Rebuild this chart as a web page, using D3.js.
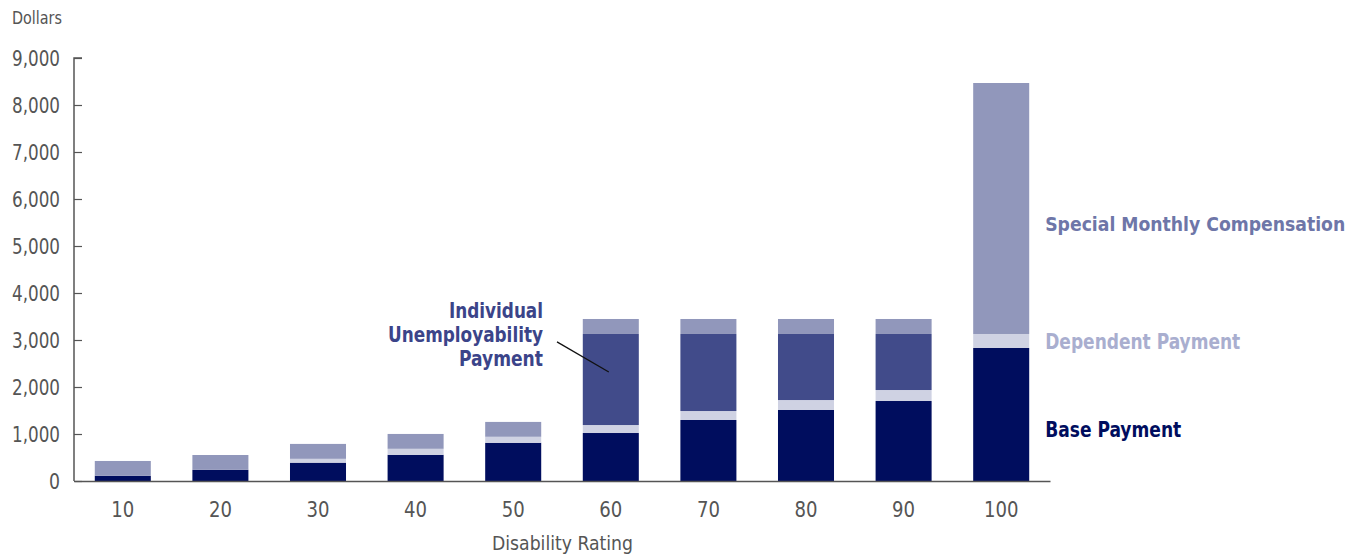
<!DOCTYPE html>
<html>
<head>
<meta charset="utf-8">
<script src="https://cdn.jsdelivr.net/npm/d3@7"></script>
<style>
  body { margin: 0; background: #fff; }
  text { font-family: "DejaVu Sans Condensed", "Liberation Sans Narrow", sans-serif; }
</style>
</head>
<body>
<div id="chart"></div>
<script>
var ratings = ["10", "20", "30", "40", "50", "60", "70", "80", "90", "100"];
var basePayment = [110, 237, 390, 557, 813, 1021, 1298, 1511, 1702, 2830];
var dependentPayment = [0, 0, 82, 128, 128, 170, 191, 212, 234, 298];
var unemployability = [0, 0, 0, 0, 0, 1937, 1639, 1405, 1192, 0];
var specialMonthly = [316, 316, 317, 316, 316, 319, 319, 319, 319, 5340];
var yTicks = [0, 1000, 2000, 3000, 4000, 5000, 6000, 7000, 8000, 9000];

function init() {
    var w = 1359;
    var h = 557;
    var left = 74, right = 1050, top = 58, bottom = 481;

    var keys = ["base", "dependent", "ui", "smc"];
    var colors = {base: "#000d5e", dependent: "#cfd2e3", ui: "#414b8a", smc: "#9197bb"};

    var table = ratings.map(function(r, i) {
        return {rating: r, base: basePayment[i], dependent: dependentPayment[i],
                ui: unemployability[i], smc: specialMonthly[i]};
    });
    var series = d3.stack().keys(keys)(table);

    var x = d3.scaleBand().domain(ratings).range([left, right])
              .paddingInner(0.426).paddingOuter(0.213);
    var y = d3.scaleLinear().domain([0, 9000]).range([bottom, top]);

    var svg = d3.select("#chart").append("svg")
                .attr("width", w).attr("height", h);

    // squeeze text so the wide fallback font reads like the condensed original
    function squeeze(sel, width) {
        sel.attr("textLength", width).attr("lengthAdjust", "spacingAndGlyphs");
        return sel;
    }

    svg.append("g").selectAll("g")
       .data(series)
       .enter().append("g")
       .attr("fill", function(d) { return colors[d.key]; })
       .selectAll("rect")
       .data(function(d) { return d; })
       .enter().append("rect")
       .attr("x", function(d) { return x(d.data.rating); })
       .attr("y", function(d) { return y(d[1]); })
       .attr("width", x.bandwidth())
       .attr("height", function(d) { return y(d[0]) - y(d[1]); });

    // y axis
    var yAxis = svg.append("g")
        .attr("transform", "translate(" + left + ",0)")
        .call(d3.axisRight(y).tickValues(yTicks).tickSize(8).tickFormat(d3.format(",")));
    yAxis.select(".domain").attr("stroke", "#555").attr("stroke-width", 1.5)
         .attr("d", "M8," + top + "H0V" + bottom);
    yAxis.selectAll(".tick line").attr("stroke", "#555").attr("stroke-width", 1.2);
    yAxis.selectAll(".tick text")
         .attr("x", -14).attr("text-anchor", "end")
         .attr("fill", "#555").attr("font-size", 22)
         .each(function(d) {
             var t = d3.select(this);
             if (d >= 1000) squeeze(t, 48);
             else squeeze(t, 11);
         });

    // x axis
    var xAxis = svg.append("g")
        .attr("transform", "translate(0," + bottom + ")")
        .call(d3.axisBottom(x).tickSize(0));
    xAxis.select(".domain").attr("stroke", "#555").attr("stroke-width", 1.5);
    xAxis.selectAll(".tick text")
         .attr("dy", 0).attr("y", 36)
         .attr("fill", "#555").attr("font-size", 22)
         .each(function(d) { squeeze(d3.select(this), d.length * 11.5); });

    squeeze(svg.append("text").attr("x", 12).attr("y", 24)
       .attr("fill", "#555").attr("font-size", 17).text("Dollars"), 50);
    squeeze(svg.append("text").attr("x", 492).attr("y", 550)
       .attr("fill", "#555").attr("font-size", 20).text("Disability Rating"), 141);

    // series labels at the right
    var labelX = x("100") + x.bandwidth() + 16;
    var last = table[table.length - 1];
    squeeze(svg.append("text").attr("x", labelX).attr("y", y(5480) + 8)
       .attr("font-weight", "bold").attr("font-size", 19).attr("fill", "#6e76a8")
       .text("Special Monthly Compensation"), 300);
    squeeze(svg.append("text").attr("x", labelX)
       .attr("y", y(last.base + last.dependent / 2) + 8)
       .attr("font-weight", "bold").attr("font-size", 21).attr("fill", "#a9aecf")
       .text("Dependent Payment"), 195);
    squeeze(svg.append("text").attr("x", labelX).attr("y", y(1100) + 8)
       .attr("font-weight", "bold").attr("font-size", 21).attr("fill", "#000d5e")
       .text("Base Payment"), 136);

    // annotation for unemployability
    var uiLines = [["Individual", 94], ["Unemployability", 155], ["Payment", 84]];
    svg.selectAll("text.ui").data(uiLines).enter().append("text")
       .attr("class", "ui")
       .attr("x", function(d) { return 543 - d[1]; })
       .attr("y", function(d, i) { return 318 + i * 24; })
       .attr("font-weight", "bold")
       .attr("font-size", 21).attr("fill", "#3b4489")
       .attr("textLength", function(d) { return d[1]; })
       .attr("lengthAdjust", "spacingAndGlyphs")
       .text(function(d) { return d[0]; });

    svg.append("line")
       .attr("x1", 557).attr("y1", y(2960))
       .attr("x2", x("60") + x.bandwidth() / 2 - 2).attr("y2", y(2320))
       .attr("stroke", "#111").attr("stroke-width", 1.3);
}

window.onload = init;
</script>
</body>
</html>
